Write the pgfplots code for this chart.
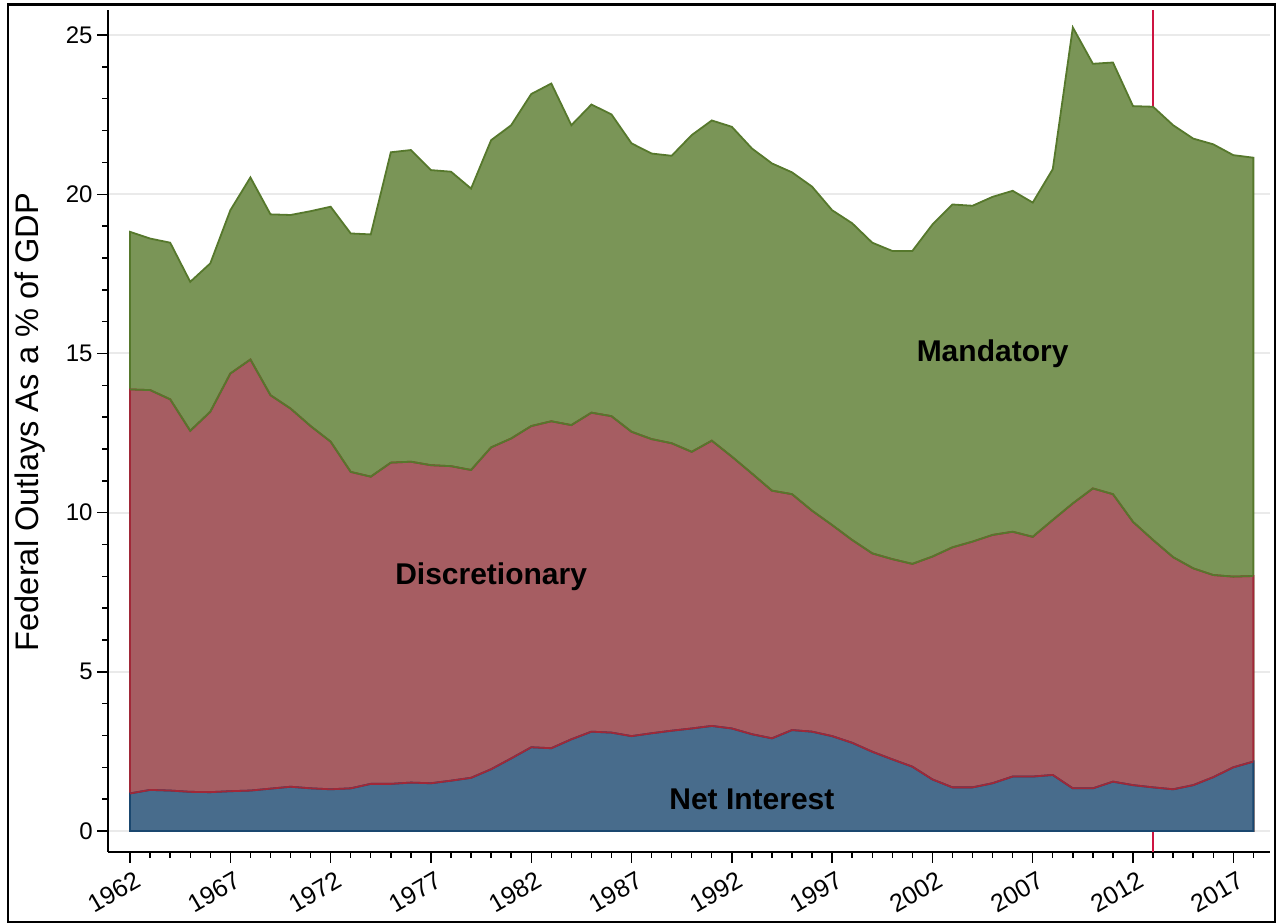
\documentclass[border=0pt]{standalone}
\usepackage{pgfplots}
\pgfplotsset{compat=1.18}
\usepackage{pgfplotstable}
\usepackage{fontspec}
\setmainfont{Liberation Sans}
\definecolor{gfill}{RGB}{122,149,87}
\definecolor{gline}{RGB}{86,120,44}
\definecolor{rfill}{RGB}{166,93,98}
\definecolor{rline}{RGB}{160,40,56}
\definecolor{bfill}{RGB}{72,108,140}
\definecolor{bline}{RGB}{26,71,111}
\definecolor{vline}{RGB}{205,20,65}
\definecolor{gridc}{RGB}{234,234,234}

\pgfplotstableread{
year total disc ni
1962 18.82 13.87 1.18
1963 18.61 13.85 1.29
1964 18.48 13.56 1.27
1965 17.25 12.57 1.23
1966 17.83 13.17 1.22
1967 19.50 14.37 1.25
1968 20.53 14.81 1.27
1969 19.37 13.69 1.33
1970 19.35 13.27 1.39
1971 19.47 12.72 1.34
1972 19.61 12.23 1.31
1973 18.77 11.28 1.34
1974 18.74 11.13 1.48
1975 21.32 11.57 1.48
1976 21.39 11.60 1.52
1977 20.76 11.49 1.50
1978 20.71 11.46 1.58
1979 20.18 11.34 1.67
1980 21.70 12.05 1.94
1981 22.17 12.33 2.28
1982 23.15 12.72 2.63
1983 23.48 12.87 2.60
1984 22.17 12.75 2.88
1985 22.82 13.14 3.12
1986 22.51 13.03 3.09
1987 21.60 12.54 2.98
1988 21.28 12.31 3.07
1989 21.21 12.18 3.15
1990 21.86 11.91 3.22
1991 22.32 12.26 3.30
1992 22.12 11.76 3.22
1993 21.44 11.23 3.04
1994 20.97 10.69 2.91
1995 20.69 10.58 3.17
1996 20.24 10.06 3.12
1997 19.50 9.61 2.98
1998 19.09 9.14 2.77
1999 18.48 8.72 2.49
2000 18.22 8.54 2.25
2001 18.22 8.39 2.02
2002 19.05 8.62 1.62
2003 19.68 8.91 1.37
2004 19.64 9.09 1.37
2005 19.92 9.30 1.50
2006 20.11 9.40 1.71
2007 19.74 9.24 1.71
2008 20.79 9.77 1.76
2009 25.24 10.29 1.34
2010 24.10 10.76 1.34
2011 24.14 10.58 1.55
2012 22.77 9.71 1.44
2013 22.75 9.14 1.37
2014 22.17 8.60 1.31
2015 21.75 8.25 1.44
2016 21.57 8.04 1.69
2017 21.23 7.99 2.00
2018 21.15 8.01 2.18
}\outlays

\begin{document}
\begin{tikzpicture}
\useasboundingbox (0,0) rectangle (638.5pt,462pt);
\draw[line width=1.3pt] (4pt,1pt) rectangle (637.5pt,459.6pt);
\begin{axis}[
  at={(54pt,36pt)}, anchor=south west,
  scale only axis, width=581pt, height=421pt,
  xmin=1960.9, xmax=2018.83, ymin=-0.66, ymax=25.79,
  axis x line=bottom, axis y line=left,
  axis line style={-, line width=0.8pt, black},
  every tick/.style={black, line width=0.7pt},
  tick align=outside,
  major tick length=5.5pt, minor tick length=3pt,
  xtick={1962,1967,...,2017},
  minor xtick={1962,1963,...,2018},
  ytick={0,5,...,25},
  minor ytick={0,1,...,25},
  ymajorgrids,
  major grid style={gridc, line width=1pt},
  /pgf/number format/assume math mode=true,
  /pgf/number format/1000 sep={},
  xticklabel style={font=\fontsize{12.5}{14}\selectfont, rotate=30, anchor=north east, inner sep=1pt, yshift=-3pt, xshift=1pt},
  yticklabel style={font=\fontsize{12}{14}\selectfont, inner sep=2pt},
  clip=false,
  every axis plot/.append style={mark=none},
]
\addplot[vline, line width=1pt] coordinates {(2013,-0.66) (2013,25.79)};
\addplot[fill=gfill, draw=gline, line width=0.9pt] table[x=year,y=total]{\outlays} \closedcycle;
\addplot[fill=rfill, draw=rline, line width=0.9pt] table[x=year,y=disc]{\outlays} \closedcycle;
\addplot[draw=gline, line width=0.9pt] table[x=year,y=disc]{\outlays};
\addplot[fill=bfill, draw=bline, line width=0.9pt] table[x=year,y=ni]{\outlays} \closedcycle;
\addplot[draw=rline, line width=0.9pt] table[x=year,y=ni]{\outlays};
\node[font=\bfseries\fontsize{15}{18}\selectfont] at (axis cs:2005,15) {Mandatory};
\node[font=\bfseries\fontsize{15}{18}\selectfont] at (axis cs:1980,8) {Discretionary};
\node[font=\bfseries\fontsize{15}{18}\selectfont] at (axis cs:1993,1) {Net Interest};
\end{axis}
\node[rotate=90, font=\fontsize{16.3}{19}\selectfont] at (15pt,251pt) {Federal Outlays As a \% of GDP};
\end{tikzpicture}
\end{document}
